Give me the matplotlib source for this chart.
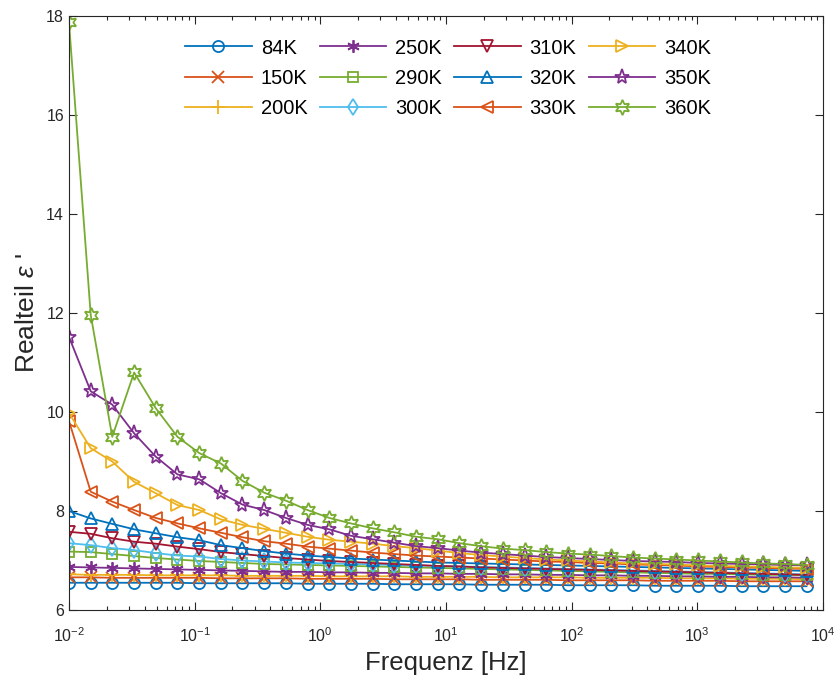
import matplotlib
matplotlib.use("Agg")
import matplotlib.pyplot as plt

plt.rcParams['font.family'] = ['Liberation Sans', 'DejaVu Sans']
plt.rcParams['mathtext.fontset'] = 'custom'
plt.rcParams['mathtext.rm'] = 'Liberation Sans'
plt.rcParams['mathtext.it'] = 'Liberation Sans:italic'

freq = [0.01, 0.0149, 0.0221, 0.0330, 0.0490, 0.0730, 0.109, 0.162, 0.240, 0.358,
        0.532, 0.792, 1.18, 1.75, 2.61, 3.88, 5.78, 8.60, 12.8, 19.0,
        28.3, 42.2, 62.8, 93.4, 139, 207, 308, 458, 681, 1010,
        1510, 2250, 3340, 4970, 7400]

labels = ['84K', '150K', '200K', '250K', '290K', '300K',
          '310K', '320K', '330K', '340K', '350K', '360K']

eps_84 = [6.55, 6.55, 6.55, 6.55, 6.55, 6.55, 6.54, 6.54, 6.54, 6.54, 6.54, 6.53, 6.53, 6.53, 6.53, 6.52, 6.52, 6.52,
          6.52, 6.51, 6.51, 6.51, 6.51, 6.50, 6.50, 6.50, 6.50, 6.49, 6.49, 6.49, 6.49, 6.48, 6.48, 6.48, 6.48]
eps_150 = [6.66, 6.66, 6.65, 6.65, 6.65, 6.65, 6.65, 6.64, 6.64, 6.64, 6.64, 6.63, 6.63, 6.63, 6.63, 6.62, 6.62, 6.62,
           6.62, 6.61, 6.61, 6.61, 6.61, 6.60, 6.60, 6.60, 6.60, 6.59, 6.59, 6.59, 6.59, 6.58, 6.58, 6.58, 6.58]
eps_200 = [6.72, 6.71, 6.71, 6.71, 6.70, 6.70, 6.70, 6.70, 6.69, 6.69, 6.69, 6.69, 6.68, 6.68, 6.68, 6.68, 6.67, 6.67,
           6.67, 6.67, 6.66, 6.66, 6.66, 6.66, 6.65, 6.65, 6.65, 6.65, 6.64, 6.64, 6.64, 6.63, 6.63, 6.63, 6.62]
eps_250 = [6.87, 6.86, 6.85, 6.84, 6.83, 6.82, 6.81, 6.80, 6.79, 6.78, 6.77, 6.77, 6.76, 6.76, 6.75, 6.75, 6.74, 6.74,
           6.73, 6.73, 6.72, 6.72, 6.71, 6.71, 6.70, 6.70, 6.69, 6.69, 6.68, 6.68, 6.67, 6.67, 6.66, 6.66, 6.65]
eps_290 = [7.18, 7.17, 7.13, 7.09, 7.05, 7.02, 6.99, 6.97, 6.95, 6.93, 6.92, 6.91, 6.90, 6.89, 6.88, 6.87, 6.86, 6.85,
           6.84, 6.83, 6.82, 6.81, 6.80, 6.79, 6.78, 6.77, 6.76, 6.75, 6.74, 6.73, 6.73, 6.72, 6.71, 6.71, 6.70]
eps_300 = [7.35, 7.31, 7.25, 7.21, 7.15, 7.10, 7.08, 7.03, 7.00, 6.98, 6.96, 6.95, 6.94, 6.93, 6.92, 6.91, 6.90, 6.89,
           6.88, 6.87, 6.86, 6.85, 6.84, 6.83, 6.82, 6.81, 6.80, 6.79, 6.78, 6.77, 6.76, 6.75, 6.74, 6.73, 6.72]
eps_310 = [7.58, 7.54, 7.45, 7.38, 7.34, 7.28, 7.23, 7.17, 7.13, 7.09, 7.05, 7.02, 6.99, 6.97, 6.95, 6.93, 6.91, 6.89,
           6.88, 6.86, 6.85, 6.84, 6.83, 6.82, 6.81, 6.80, 6.79, 6.78, 6.77, 6.76, 6.75, 6.74, 6.73, 6.72, 6.71]
eps_320 = [8.00, 7.85, 7.74, 7.63, 7.55, 7.47, 7.41, 7.31, 7.25, 7.19, 7.14, 7.10, 7.07, 7.04, 7.02, 7.00, 6.98, 6.96,
           6.95, 6.94, 6.93, 6.92, 6.91, 6.90, 6.89, 6.88, 6.87, 6.86, 6.85, 6.84, 6.83, 6.82, 6.81, 6.80, 6.79]
eps_330 = [9.82, 8.39, 8.19, 8.02, 7.86, 7.75, 7.65, 7.56, 7.47, 7.39, 7.34, 7.28, 7.24, 7.20, 7.16, 7.13, 7.10, 7.08,
           7.06, 7.04, 7.02, 7.00, 6.98, 6.97, 6.95, 6.94, 6.92, 6.91, 6.90, 6.88, 6.87, 6.86, 6.85, 6.84, 6.83]
eps_340 = [9.98, 9.27, 9.00, 8.59, 8.36, 8.12, 8.02, 7.83, 7.72, 7.64, 7.56, 7.48, 7.42, 7.38, 7.34, 7.29, 7.25, 7.20,
           7.15, 7.11, 7.08, 7.05, 7.02, 7.00, 6.98, 6.96, 6.94, 6.93, 6.92, 6.90, 6.89, 6.88, 6.87, 6.86, 6.85]
eps_350 = [11.52, 10.42, 10.15, 9.57, 9.10, 8.74, 8.64, 8.36, 8.13, 8.02, 7.86, 7.72, 7.63, 7.50, 7.43, 7.36, 7.29, 7.25,
           7.20, 7.16, 7.13, 7.10, 7.07, 7.05, 7.03, 7.01, 6.99, 6.98, 6.97, 6.95, 6.94, 6.93, 6.92, 6.91, 6.90]
eps_360 = [17.88, 11.96, 9.50, 10.80, 10.08, 9.50, 9.17, 8.96, 8.61, 8.37, 8.21, 8.02, 7.86, 7.75, 7.65, 7.57, 7.48, 7.43,
           7.35, 7.29, 7.24, 7.21, 7.17, 7.14, 7.12, 7.09, 7.06, 7.04, 7.02, 7.00, 6.98, 6.96, 6.94, 6.93, 6.91]

series = [eps_84, eps_150, eps_200, eps_250, eps_290, eps_300,
          eps_310, eps_320, eps_330, eps_340, eps_350, eps_360]

# matlab default color order, cycled
colors = ['#0072BD', '#D95319', '#EDB120', '#7E2F8E', '#77AC30', '#4DBEEE',
          '#A2142F', '#0072BD', '#D95319', '#EDB120', '#7E2F8E', '#77AC30']
markers = ['o', 'x', '+', (6, 2, 0), 's', 'd', 'v', '^', '<', '>', '*', (6, 1, 0)]
msizes = [8, 8, 10, 9, 7, 8, 9, 9, 9, 9, 11, 11]

fig = plt.figure(figsize=(8.35, 6.77), dpi=100)
ax = fig.add_axes([0.0826, 0.099, 0.903, 0.877])

for y, lab, c, m, ms in zip(series, labels, colors, markers, msizes):
    ax.plot(freq, y, color=c, marker=m, markersize=ms, markerfacecolor='none',
            markeredgewidth=1.3, linewidth=1.3, label=lab)

ax.set_xscale('log')
ax.set_xlim(1e-2, 1e4)
ax.set_ylim(6, 18)
ax.set_yticks([6, 8, 10, 12, 14, 16, 18])
ax.tick_params(which='both', direction='in', top=True, right=True, colors='#262626',
               labelsize=11.5, width=0.8)
ax.tick_params(axis='x', which='major', pad=12)
ax.tick_params(which='major', length=6)
ax.tick_params(which='minor', length=3)
for sp in ax.spines.values():
    sp.set_color('#262626')
    sp.set_linewidth(0.8)

ax.set_xlabel('Frequenz [Hz]', fontsize=18.5, color='#262626', labelpad=4)
ax.set_ylabel("Realteil $\\epsilon$ '", fontsize=19, color='#262626', labelpad=5)

ax.legend(ncol=4, loc='upper center', bbox_to_anchor=(0.503, 0.993), frameon=False,
          fontsize=14.5, handlelength=3.3, columnspacing=0.6, labelspacing=0.55,
          handletextpad=0.45)

fig.savefig('out.png', dpi=100)
